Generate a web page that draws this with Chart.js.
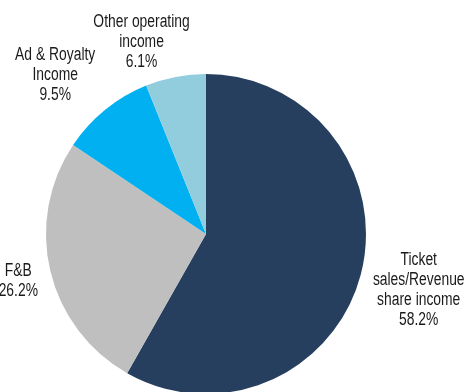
<!DOCTYPE html>
<html>
<head>
<meta charset="utf-8">
<script src="https://cdn.jsdelivr.net/npm/chart.js@4"></script>
<style>
  html, body { margin: 0; padding: 0; background: #ffffff; overflow: hidden; }
  #wrap { width: 467px; height: 392px; overflow: hidden; }
  canvas { display: block; }
</style>
</head>
<body>
<div id="wrap"><canvas id="c" width="467" height="400"></canvas></div>
<script>
// Revenue mix by source (%)
const categories = [
  ['Ticket', 'sales/Revenue', 'share income'],
  ['F&B'],
  ['Ad & Royalty', 'Income'],
  ['Other operating', 'income']
];
const shares = [58.2, 26.2, 9.5, 6.1];
const sliceColors = ['#273F5F', '#BFBFBF', '#00B0F0', '#92CDDD'];

// Where each label block sits relative to the outer midpoint of its slice
const labelOffsets = [
  { dx: 58, dy: 15 },
  { dx: -32, dy: 10 },
  { dx: -50, dy: -35 },
  { dx: -34, dy: -35 }
];

// Narrow sans look: regular face squeezed horizontally
const NARROW = 0.77;

const sliceLabels = {
  id: 'sliceLabels',
  afterDatasetsDraw(chart) {
    const ctx = chart.ctx;
    const meta = chart.getDatasetMeta(0);
    const lineH = 20;
    ctx.save();
    ctx.font = '18px "Liberation Sans", Arial, sans-serif';
    ctx.fillStyle = '#1a1a1a';
    ctx.textAlign = 'center';
    ctx.textBaseline = 'middle';
    meta.data.forEach((arc, i) => {
      const mid = (arc.startAngle + arc.endAngle) / 2;
      const ex = arc.x + Math.cos(mid) * arc.outerRadius;
      const ey = arc.y + Math.sin(mid) * arc.outerRadius;
      const lines = categories[i].concat([shares[i].toFixed(1) + '%']);
      const cx = ex + labelOffsets[i].dx;
      const cy = ey + labelOffsets[i].dy;
      const top = cy - (lines.length - 1) * lineH / 2;
      lines.forEach((t, k) => {
        ctx.save();
        ctx.translate(cx, top + k * lineH);
        ctx.scale(NARROW, 1);
        ctx.fillText(t, 0, 0);
        ctx.restore();
      });
    });
    ctx.restore();
  }
};

new Chart(document.getElementById('c'), {
  type: 'pie',
  data: {
    labels: categories.map(l => l.join(' ')),
    datasets: [{
      data: shares,
      backgroundColor: sliceColors,
      borderWidth: 0
    }]
  },
  options: {
    responsive: false,
    animation: false,
    layout: { padding: { top: 74, bottom: 6, left: 0, right: 55 } },
    plugins: {
      legend: { display: false },
      tooltip: { enabled: false }
    }
  },
  plugins: [sliceLabels]
});
</script>
</body>
</html>
